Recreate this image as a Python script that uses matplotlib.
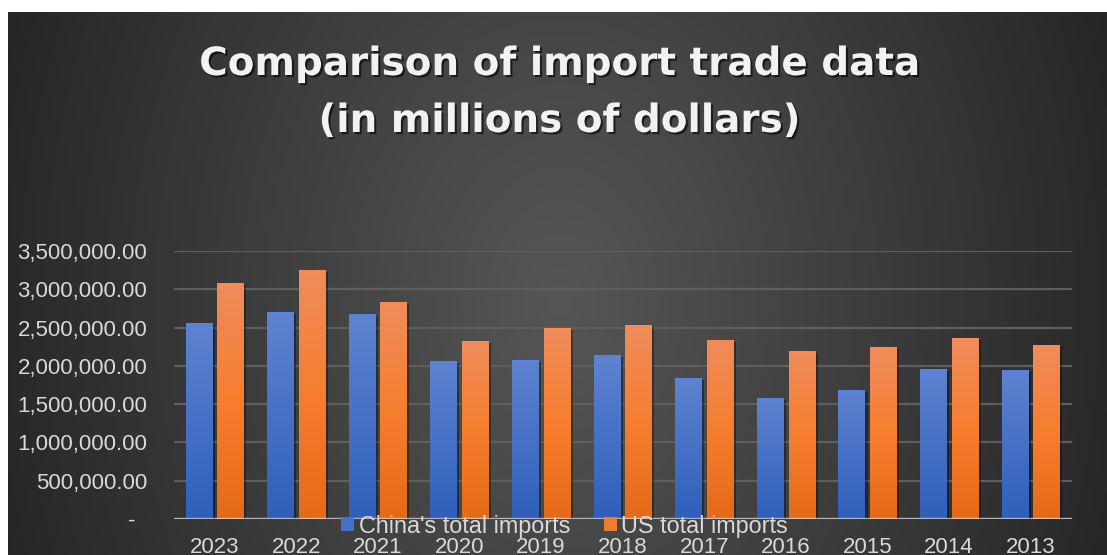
import numpy as np
import matplotlib
matplotlib.use("Agg")
import matplotlib.pyplot as plt
from matplotlib import patheffects as pe
from matplotlib.patches import Rectangle
from matplotlib.colors import LinearSegmentedColormap
from matplotlib.ticker import FixedLocator, FuncFormatter

# ---- data -----------------------------------------------------------------
years = ["2023", "2022", "2021", "2020", "2019", "2018",
         "2017", "2016", "2015", "2014", "2013"]
china_imports = [2558000, 2703000, 2675000, 2063000, 2076000, 2141000,
                 1841000, 1582000, 1685000, 1959000, 1947000]
us_imports = [3079000, 3249000, 2832000, 2323000, 2500000, 2532000,
              2338000, 2195000, 2245000, 2363000, 2271000]
series_labels = ["China's total imports", "US total imports"]
y_ticks = [0, 500000, 1000000, 1500000, 2000000, 2500000, 3000000, 3500000]
title_lines = ["Comparison of import trade data", "(in millions of dollars)"]

# ---- figure ---------------------------------------------------------------
W, H = 1107, 555
fig = plt.figure(figsize=(W / 100, H / 100), dpi=100, facecolor="white")

# dark radial-gradient chart area
bg = fig.add_axes([8 / W, 0, 1 - 8 / W, (H - 12) / H], zorder=-10)
bg.set_axis_off()
gx, gy = np.meshgrid(np.linspace(8, W, 600), np.linspace(12, H, 300))
d = np.sqrt(((gx - 560) / 590) ** 2 + ((gy - 300) / 800) ** 2)
t = np.clip(d, 0, 1)
val = (86 * (1 - t) + 38 * t) / 255
bg.imshow(np.dstack([val, val, val]), extent=[0, 1, 0, 1], aspect="auto",
          origin="upper", interpolation="bilinear")
bg.set_xlim(0, 1)
bg.set_ylim(0, 1)

ax = fig.add_axes([173.7 / W, 1 - 519 / H, 897.8 / W, 268 / H])
ax.set_facecolor("none")

x = np.arange(len(years))
offset = 0.194
width = 0.322

blue_cmap = LinearSegmentedColormap.from_list(
    "blue_grad", [(47 / 255, 95 / 255, 186 / 255), (94 / 255, 131 / 255, 209 / 255)])
orange_cmap = LinearSegmentedColormap.from_list(
    "orange_grad", [(228 / 255, 106 / 255, 24 / 255), (246 / 255, 126 / 255, 46 / 255),
                    (240 / 255, 140 / 255, 92 / 255)])

shadow = [pe.SimplePatchShadow(offset=(2, -1.5), shadow_rgbFace="black", alpha=0.35),
          pe.Normal()]

grad = np.linspace(1, 0, 256).reshape(-1, 1)
for vals, pos, cmap, col in [(china_imports, x - offset, blue_cmap, "#4472c4"),
                             (us_imports, x + offset, orange_cmap, "#ed7d31")]:
    bars = ax.bar(pos, vals, width=width, color=col, zorder=2, linewidth=0)
    for b in bars:
        b.set_path_effects(shadow)
        x0, w, h = b.get_x(), b.get_width(), b.get_height()
        im = ax.imshow(grad, extent=[x0, x0 + w, 0, h], aspect="auto",
                       cmap=cmap, vmin=0, vmax=1, zorder=3, origin="upper")
        im.set_clip_path(b)

ax.set_xlim(-0.5, len(years) - 0.5)
ax.set_ylim(0, 3500000)

# axes styling
for s in ax.spines.values():
    s.set_visible(False)
ax.yaxis.set_major_locator(FixedLocator(y_ticks))
ax.yaxis.set_major_formatter(FuncFormatter(
    lambda v, p: "-  " if v == 0 else f"{v:,.2f}"))
ax.yaxis.grid(True, color="#5e5e5e", lw=1.6)
ax.set_axisbelow(True)
ax.axhline(0, color="white", alpha=0.55, lw=2.4, zorder=5)

ax.set_xticks(x)
ax.set_xticklabels(years)
ax.tick_params(axis="both", length=0, colors="#d9d9d9", labelsize=16)
ax.tick_params(axis="y", pad=19)
ax.tick_params(axis="x", pad=13)
for lab in ax.get_xticklabels() + ax.get_yticklabels():
    lab.set_fontfamily("Liberation Sans")

# legend drawn over the axis line
handles = [Rectangle((0, 0), 1, 1, fc="#4472c4"), Rectangle((0, 0), 1, 1, fc="#ed7d31")]
fig.legend(handles, series_labels, loc="center", bbox_to_anchor=(0.51, 1 - 526 / H),
           ncol=2, frameon=False, prop={"family": "Liberation Sans", "size": 16.8},
           labelcolor="#d9d9d9", handlelength=0.55, handleheight=0.55,
           handletextpad=0.2, columnspacing=1.45, borderpad=0, borderaxespad=0)

# title with soft shadow
title_fx = [pe.withSimplePatchShadow(offset=(1.5, -1.5), shadow_rgbFace="black", alpha=0.6)]
for i, line in enumerate(title_lines):
    fig.text(559 / W, 1 - (75 + 57 * i) / H, line, ha="center", va="baseline",
             fontsize=28, fontweight="bold", family="DejaVu Sans", color="#f2f2f2",
             path_effects=title_fx)

fig.savefig("out.png", dpi=100, facecolor="white")
